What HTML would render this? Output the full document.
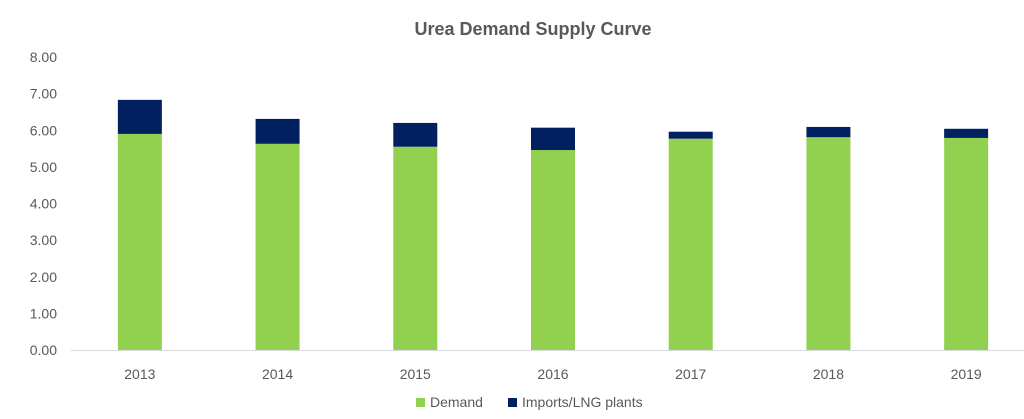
<!DOCTYPE html>
<html><head><meta charset="utf-8"><style>
body{margin:0;background:#fff;}
svg{display:block;font-family:"Liberation Sans",sans-serif;}
</style></head><body>
<svg id="chart" width="1024" height="419">
<text x="533" y="35" text-anchor="middle" font-size="18" font-weight="bold" fill="#595959">Urea Demand Supply Curve</text>
<g id="yaxis"></g>
<g id="bars"></g>
<g id="xaxis"></g>
<g>
<rect x="416" y="398" width="9" height="9" fill="#92D050"/>
<text x="430" y="407" font-size="14" fill="#595959">Demand</text>
<rect x="508" y="398" width="9" height="9" fill="#002060"/>
<text x="522" y="407" font-size="14" fill="#595959">Imports/LNG plants</text>
</g>
</svg>
<script>
const categories=["2013","2014","2015","2016","2017","2018","2019"];
const demand=[5.90,5.63,5.55,5.46,5.77,5.81,5.79];
const imports=[0.93,0.68,0.65,0.61,0.19,0.28,0.25];
const yTicks=["0.00","1.00","2.00","3.00","4.00","5.00","6.00","7.00","8.00"];
const NS="http://www.w3.org/2000/svg";
const y0=350,y8=57,left=71,right=1035;
const y=v=>y0-(v/8)*(y0-y8);
const bw=(right-left)/categories.length;
const x=i=>left+bw*(i+0.5);
function mk(t,a,p){const e=document.createElementNS(NS,t);for(const k in a)e.setAttribute(k,a[k]);p.appendChild(e);return e;}
const ya=document.getElementById('yaxis'),bg=document.getElementById('bars'),xa=document.getElementById('xaxis');
yTicks.forEach(t=>{const e=mk('text',{x:57,y:y(parseFloat(t))+5,'text-anchor':'end','font-size':14,fill:'#595959'},ya);e.textContent=t;

});
categories.forEach((c,i)=>{
const r1=mk('rect',{x:x(i)-22,y:y(demand[i]),width:44,height:y0-y(demand[i]),fill:'#92D050'},bg);


const r2=mk('rect',{x:x(i)-22,y:y(demand[i]+imports[i]),width:44,height:y(demand[i])-y(demand[i]+imports[i]),fill:'#002060'},bg);


const t=mk('text',{x:x(i),y:379,'text-anchor':'middle','font-size':14,fill:'#595959'},xa);t.textContent=c;


});
const ax=mk('line',{x1:left,x2:right,y1:y0+0.5,y2:y0+0.5,stroke:'#d9d9d9','stroke-width':1},xa);


</script>
</body></html>
